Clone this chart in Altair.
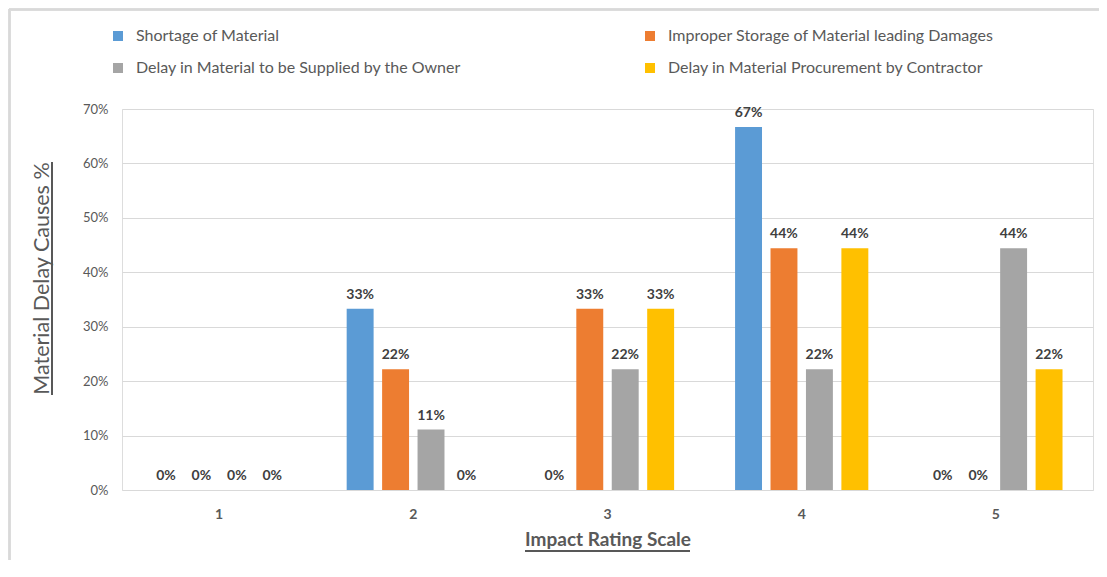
import altair as alt
import pandas as pd

ratings = ["1", "2", "3", "4", "5"]
series = [
    "Shortage of Material",
    "Improper Storage of Material leading Damages",
    "Delay in Material to be Supplied by the Owner",
    "Delay in Material Procurement by Contractor",
]
shortage = [0.0, 0.333, 0.0, 0.667, 0.0]
improper = [0.0, 0.222, 0.333, 0.444, 0.0]
owner = [0.0, 0.111, 0.222, 0.222, 0.444]
contractor = [0.0, 0.0, 0.333, 0.444, 0.222]
colors = ["#5B9BD5", "#ED7D31", "#A5A5A5", "#FFC000"]

rows = []
for name, vals in zip(series, [shortage, improper, owner, contractor]):
    for r, v in zip(ratings, vals):
        rows.append({"rating": r, "cause": name, "value": v})
df = pd.DataFrame(rows)

FONT = "Lato"
W, H = 971, 381

x = alt.X("rating:N", sort=ratings,
          scale=alt.Scale(paddingInner=0, paddingOuter=0),
          axis=alt.Axis(title="Impact Rating Scale", labelAngle=0, labelFontWeight="bold",
                        labelColor="#595959", labelFontSize=14, labelPadding=17,
                        ticks=False, domain=False, titleFontSize=19, titleFontWeight="bold",
                        titleColor="#595959", titleY=55, titleBaseline="alphabetic",
                        labelFont=FONT, titleFont=FONT))
xo = alt.XOffset("cause:N", sort=series,
                 scale=alt.Scale(paddingInner=0.24, paddingOuter=0.86))
y = alt.Y("value:Q", scale=alt.Scale(domain=[0, 0.7]),
          axis=alt.Axis(title="Material Delay Causes %", format=".0%", values=[0, .1, .2, .3, .4, .5, .6, .7],
                        labelColor="#595959", labelFontSize=13, labelPadding=14,
                        ticks=False, domain=False, gridColor="#D9D9D9",
                        titleFontSize=21.5, titleFontWeight="normal", titleColor="#595959",
                        titleX=-74, titleY=169, titleBaseline="alphabetic",
                        labelFont=FONT, titleFont=FONT))

bars = alt.Chart(df).mark_bar().encode(
    x=x, xOffset=xo, y=y,
    color=alt.Color("cause:N", sort=series, scale=alt.Scale(domain=series, range=colors),
                    legend=alt.Legend(title=None, orient="none", legendX=-12, legendY=-81,
                                      direction="horizontal",
                                      columns=2, columnPadding=180, rowPadding=16,
                                      symbolType="square", symbolSize=100, symbolStrokeWidth=0,
                                      labelFontSize=16, labelColor="#595959", labelFont=FONT,
                                      labelLimit=600, labelOffset=10)),
)

labels = alt.Chart(df).mark_text(baseline="bottom", dy=-7, fontWeight="bold", fontSize=14,
                                 color="#404040", font=FONT).encode(
    x=x, xOffset=xo, y=y, text=alt.Text("value:Q", format=".0%"))

uline_x = alt.Chart(df).mark_rule(color="#595959", strokeWidth=1).encode(
    x=alt.value(403), x2=alt.value(568), y=alt.value(442))
uline_y = alt.Chart(df).mark_rule(color="#595959", strokeWidth=1).encode(
    x=alt.value(-70), y=alt.value(53), y2=alt.value(286))

border_top = alt.Chart(df).mark_rule(color="#D9D9D9", strokeWidth=1.5).encode(
    x=alt.value(-113), x2=alt.value(990), y=alt.value(-99.5))
border_left = alt.Chart(df).mark_rule(color="#D9D9D9", strokeWidth=1.5).encode(
    x=alt.value(-112.5), y=alt.value(-100), y2=alt.value(470))

chart = alt.layer(bars, labels, uline_x, uline_y, border_top, border_left).properties(
    width=W, height=H,
    autosize=alt.AutoSizeParams(type="none"),
    padding={"left": 114, "top": 101, "right": 6, "bottom": 70},
).configure_view(stroke=None).configure(background="white")

chart.save("out.html", embed_options={"renderer": "svg", "actions": False})
